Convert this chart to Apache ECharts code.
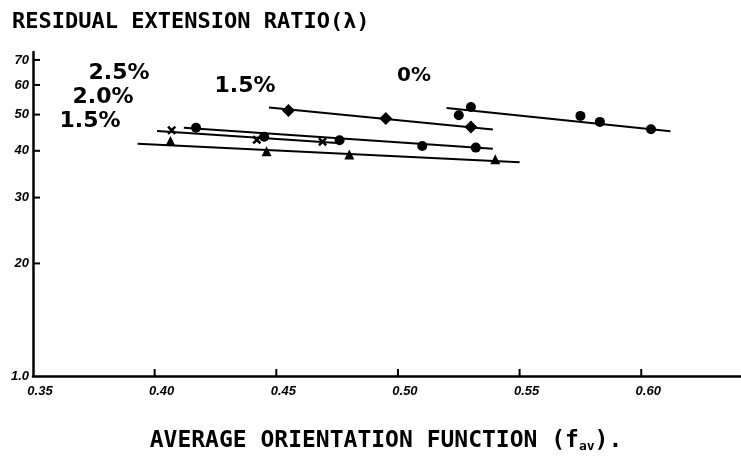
<!DOCTYPE html>
<html><head><meta charset="utf-8">
<script src="https://cdn.jsdelivr.net/npm/echarts@6/dist/echarts.min.js"></script>
<style>html,body{margin:0;padding:0;background:#fff}#c{width:741px;height:458px}</style>
</head><body><div id="c"></div>
<script>
// ---- data ----
const xTickValues = [0.35, 0.40, 0.45, 0.50, 0.55, 0.60];
const xTickLabels = ['0.35', '0.40', '0.45', '0.50', '0.55', '0.60'];
const yTickValues = [10, 20, 30, 40, 50, 60, 70];
const yTickLabels = ['1.0', '20', '30', '40', '50', '60', '70'];

// 0% (circles)
const p0X = [0.525, 0.530, 0.575, 0.583, 0.604];
const p0Y = [49.8, 52.4, 49.6, 47.8, 45.7];
const fit0X = [0.520, 0.612];
const fit0Y = [52.1, 45.1];
// 1.5% (diamonds)
const p15dX = [0.455, 0.495, 0.530];
const p15dY = [51.3, 48.8, 46.3];
const fit15dX = [0.447, 0.539];
const fit15dY = [52.2, 45.6];
// 2.5% (crosses)
const p25X = [0.407, 0.442, 0.469];
const p25Y = [45.4, 42.8, 42.3];
const fit25X = [0.401, 0.475];
const fit25Y = [45.2, 42.0];
// 2.0% (circles)
const p20X = [0.417, 0.445, 0.476, 0.510, 0.532];
const p20Y = [46.1, 43.6, 42.7, 41.2, 40.8];
const fit20X = [0.412, 0.539];
const fit20Y = [46.1, 40.5];
// 1.5% (triangles)
const p15tX = [0.4065, 0.446, 0.480, 0.540];
const p15tY = [42.5, 39.9, 39.1, 38.0];
const fit15tX = [0.393, 0.550];
const fit15tY = [41.8, 37.3];

const X_MIN = 0.35, X_MAX = 0.641, Y_MIN = 10, Y_MAX = 73.5;

const zip = (a, b) => a.map((v, i) => [v, b[i]]);
const crossPath = 'path://M0,2L2,0L5,3L8,0L10,2L7,5L10,8L8,10L5,7L2,10L0,8L3,5Z';

function fit(name, xs, ys) {
  return { name: name, type: 'line', data: zip(xs, ys), showSymbol: false, symbol: 'none',
    lineStyle: { color: '#000', width: 2 }, silent: true, animation: false };
}
function pts(name, xs, ys, symbol, size) {
  return { name: name, type: 'scatter', data: zip(xs, ys), symbol: symbol, symbolSize: size,
    itemStyle: { color: '#000', opacity: 1 }, animation: false, z: 3 };
}
const labelOf = (vals, labels) => v => { const i = vals.findIndex(t => Math.abs(t - v) < 1e-6); return i >= 0 ? labels[i] : ''; };

const chart = echarts.init(document.getElementById('c'), null, { renderer: 'canvas' });
const handFont = 'Liberation Sans';
chart.setOption({
  backgroundColor: '#fff',
  animation: false,
  grid: { left: 33, right: 0, top: 52, bottom: 82, containLabel: false },
  xAxis: {
    type: 'value', min: X_MIN, max: X_MAX, interval: 0.05,
    axisLine: { show: true, lineStyle: { color: '#000', width: 2.5 } },
    axisTick: { show: false },
    axisLabel: { customValues: xTickValues, color: '#000', fontFamily: handFont, fontStyle: 'italic',
      fontWeight: 'bold', fontSize: 13, margin: 9, padding: [0, 0, 0, 14],
      formatter: labelOf(xTickValues, xTickLabels) },
    splitLine: { show: false }
  },
  yAxis: {
    type: 'log', logBase: 10, min: Y_MIN, max: Y_MAX,
    axisLine: { show: true, lineStyle: { color: '#000', width: 2.5 } },
    axisTick: { show: false },
    axisLabel: { customValues: yTickValues, color: '#000', fontFamily: handFont, fontStyle: 'italic',
      fontWeight: 'bold', fontSize: 13, margin: 4,
      formatter: labelOf(yTickValues, yTickLabels) },
    splitLine: { show: false }, minorTick: { show: false }
  },
  series: [
    fit('0% fit', fit0X, fit0Y), pts('0%', p0X, p0Y, 'circle', 10),
    fit('1.5% fit', fit15dX, fit15dY), pts('1.5% (diamond)', p15dX, p15dY, 'diamond', 13),
    fit('2.5% fit', fit25X, fit25Y), pts('2.5%', p25X, p25Y, crossPath, 9),
    fit('2.0% fit', fit20X, fit20Y), pts('2.0%', p20X, p20Y, 'circle', 10),
    fit('1.5% tri fit', fit15tX, fit15tY), pts('1.5% (triangle)', p15tX, p15tY, 'triangle', 10)
  ]
});

const texts = [
  { type: 'text', x: 12, y: 22, style: { text: 'RESIDUAL EXTENSION RATIO(λ)', font: 'bold 22px "DejaVu Sans Mono"', fill: '#000', textVerticalAlign: 'middle' } },
  { type: 'text', x: 386, y: 441, style: {
      text: 'AVERAGE ORIENTATION FUNCTION (f{s|av}).', font: 'bold 23px "DejaVu Sans Mono"', fill: '#000', textAlign: 'center', textVerticalAlign: 'middle',
      rich: { s: { font: 'bold 13px "DejaVu Sans Mono"', fill: '#000', padding: [12, 0, 0, 0] } } } },
  { type: 'text', x: 119, y: 73, style: { text: '2.5%', font: 'bold 22px "DejaVu Sans"', fill: '#000', textAlign: 'center', textVerticalAlign: 'middle' } },
  { type: 'text', x: 103, y: 97, style: { text: '2.0%', font: 'bold 22px "DejaVu Sans"', fill: '#000', textAlign: 'center', textVerticalAlign: 'middle' } },
  { type: 'text', x: 90, y: 121, style: { text: '1.5%', font: 'bold 22px "DejaVu Sans"', fill: '#000', textAlign: 'center', textVerticalAlign: 'middle' } },
  { type: 'text', x: 245, y: 86, style: { text: '1.5%', font: 'bold 22px "DejaVu Sans"', fill: '#000', textAlign: 'center', textVerticalAlign: 'middle' } },
  { type: 'text', x: 414, y: 76, style: { text: '0%', font: 'bold 20px "DejaVu Sans"', fill: '#000', textAlign: 'center', textVerticalAlign: 'middle' } }
];

// inside tick marks, positioned through the chart's own axis scales
const ticks = [];
try {
  const finder = { xAxisIndex: 0, yAxisIndex: 0 };
  xTickValues.slice(1).forEach(v => {
    const p = chart.convertToPixel(finder, [v, Y_MIN]);
    if (p && isFinite(p[0]) && isFinite(p[1])) {
      ticks.push({ type: 'line', z: 10, shape: { x1: p[0], y1: p[1], x2: p[0], y2: p[1] - 7 }, style: { stroke: '#000', lineWidth: 2 } });
    }
  });
  yTickValues.slice(1).forEach(v => {
    const p = chart.convertToPixel(finder, [X_MIN, v]);
    if (p && isFinite(p[0]) && isFinite(p[1])) {
      ticks.push({ type: 'line', z: 10, shape: { x1: p[0], y1: p[1], x2: p[0] + 7, y2: p[1] }, style: { stroke: '#000', lineWidth: 2 } });
    }
  });
} catch (e) { /* ignore */ }

chart.setOption({ graphic: texts.concat(ticks) });
</script>
</body></html>
